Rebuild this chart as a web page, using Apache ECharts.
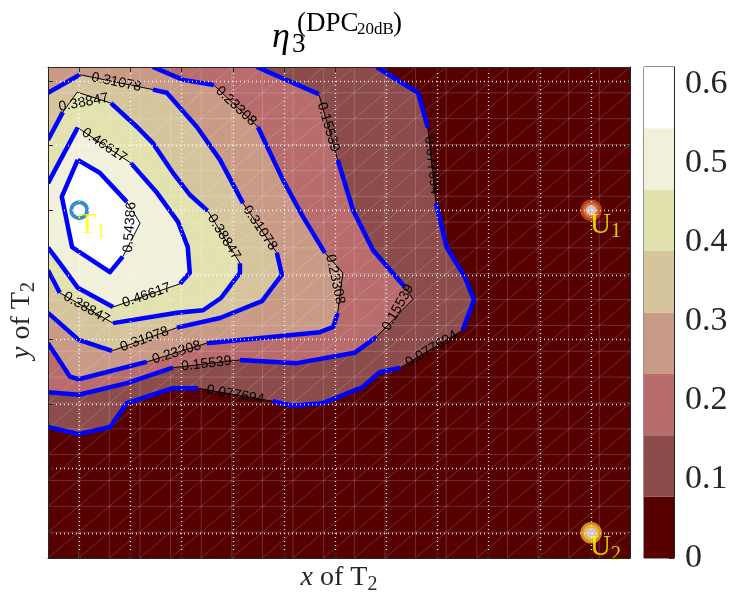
<!DOCTYPE html>
<html>
<head>
<meta charset="UTF-8">
<title>eta3 DPC 20dB</title>
<script src="https://cdn.jsdelivr.net/npm/echarts@6/dist/echarts.min.js"></script>
<style>
html,body{margin:0;padding:0;background:#fff;}
#main{width:733px;height:592px;}
</style>
</head>
<body>
<div id="main"></div>
<script>
// contour levels and colour bands (lowest band first)
var levels = [0.077694, 0.15539, 0.23308, 0.31078, 0.38847, 0.46617, 0.54386];
var zMax = 0.62155;
var bandColors = ['#560000', '#8c4c4c', '#b86c6c', '#c99b86', '#d6c59c', '#e2e2af', '#f0f0db', '#ffffff'];

var xTicks = [1, 2, 3, 4, 5, 6, 7, 8, 9, 10, 11];
var yTicks = [1, 2, 3, 4, 5, 6, 7, 8];
var cbTicks = [0, 0.1, 0.2, 0.3, 0.4, 0.5, 0.6];
var xRange = [0.39, 11.76];
var yRange = [0.61, 8.22];
var meshCells = 19;   // the surface was sampled on a 20 x 20 grid spanning the axes

// contour lines, one list of [x, y] per level
var c1 = [[6.81,8.22],[7.62,7.82],[7.81,7.28],[7.97,6.11],[8.18,5.42],[8.53,4.97],[8.71,4.61],[8.49,4.14],[7.28,3.56],[6.87,3.49],
          [6.54,3.26],[5.76,3.01],[5.17,2.97],[4.78,3.04],[3.32,3.24],[2.81,3.24],[1.93,3.01],[1.60,2.64],[0.99,2.53],[0.39,2.64]];
var c2 = [[4.47,8.22],[5.68,7.80],[6.05,6.78],[6.35,6.00],[6.74,5.38],[7.36,4.81],[7.52,4.62],[6.81,4.04],[6.38,3.79],[5.25,3.63],
          [4.14,3.68],[2.83,3.56],[1.93,3.32],[0.99,3.14],[0.39,3.18]];
var c3 = [[2.44,8.22],[3.03,8.02],[3.63,7.94],[4.49,7.29],[4.98,6.47],[5.37,5.90],[5.80,5.34],[6.15,5.03],[6.05,4.41],[5.96,4.19],
          [5.70,4.11],[3.49,3.94],[2.32,3.65],[0.99,3.38],[0.82,3.42],[0.39,3.94]];
var c4 = [[0.39,7.82],[1.01,8.10],[2.44,7.87],[2.71,7.82],[3.30,7.29],[3.75,6.78],[4.20,6.11],[4.86,5.34],[4.96,5.00],[4.57,4.59],
          [3.75,4.33],[2.91,4.18],[1.64,3.82],[0.99,3.99],[0.39,4.41]];
var c5 = [[0.39,7.09],[0.68,7.52],[0.96,7.83],[1.62,7.66],[2.13,7.29],[2.44,7.04],[2.83,6.58],[3.16,6.24],[3.51,5.99],[4.14,5.18],
          [4.14,5.03],[3.77,4.64],[3.42,4.45],[2.91,4.41],[1.66,4.25],[0.62,4.72],[0.39,5.07]];
var c6 = [[0.39,6.42],[0.97,7.28],[2.01,6.73],[2.52,6.27],[2.93,5.82],[3.12,5.43],[3.16,5.03],[2.97,4.86],[1.66,4.50],[0.97,4.80],
          [0.62,5.18],[0.39,5.42]];
var c7 = [[0.97,6.78],[0.66,6.21],[0.86,5.43],[1.60,5.04],[1.85,5.28],[2.19,5.80],[1.93,6.13],[1.40,6.58],[0.97,6.78]];
var contours = [c1, c2, c3, c4, c5, c6, c7];
// [from, to] point indices where the line carries its value label
var labelSpans = [
  [[2,3],[7,8],[13,14]],
  [[1,2],[5,7],[10,11]],
  [[2,3],[6,8],[11,12]],
  [[1,2],[6,7],[11,12]],
  [[1,3],[8,9],[14,15]],
  [[1,2],[7,8]],
  [[4,6]]
];

var nodeName = ['T', 'U', 'U'];
var nodeSub = ['1', '1', '2'];
var nodeX = [1, 11, 11];
var nodeY = [6, 6, 1];
var nodeColor = ['#0072bd', '#d95319', '#edb120'];

var serif = '"Liberation Serif", "DejaVu Serif", serif';
var axisColor = '#262626';

function renderFill(params, api) {
  var k = params.dataIndex;
  var pts = contours[k].slice();
  // lines that leave through the top edge close round the top-left corner
  if (pts[0][1] >= yRange[1]) pts.push([xRange[0], yRange[1]]);
  return {
    type: 'polygon',
    shape: {points: pts.map(function (p) { return api.coord(p); })},
    style: {fill: bandColors[k + 1]},
    silent: true
  };
}

// faint triangulation edges of the sampled surface
function renderMesh(params, api) {
  var kids = [];
  var dx = (xRange[1] - xRange[0]) / meshCells, dy = (yRange[1] - yRange[0]) / meshCells;
  var st = {stroke: 'rgba(255,255,255,0.22)', lineWidth: 0.8, fill: null};
  for (var i = 1; i < meshCells; i++) {
    var x = xRange[0] + i * dx, y = yRange[0] + i * dy;
    kids.push({type: 'line', shape: pt2(api.coord([x, yRange[0]]), api.coord([x, yRange[1]])), style: st});
    kids.push({type: 'line', shape: pt2(api.coord([xRange[0], y]), api.coord([xRange[1], y])), style: st});
  }
  for (var a = 0; a < meshCells; a++) {
    for (var b = 0; b < meshCells; b++) {
      var p = api.coord([xRange[0] + a * dx, yRange[0] + b * dy]);
      var q = api.coord([xRange[0] + (a + 1) * dx, yRange[0] + (b + 1) * dy]);
      kids.push({type: 'line', shape: pt2(p, q), style: st});
    }
  }
  return {type: 'group', children: kids, silent: true};
}

function pt2(p, q) { return {x1: p[0], y1: p[1], x2: q[0], y2: q[1]}; }

function poly(points, color, width) {
  return {type: 'polyline', shape: {points: points},
    style: {stroke: color, lineWidth: width, fill: null, lineJoin: 'round'}, silent: true};
}

function renderLine(params, api) {
  var k = params.dataIndex;
  var px = contours[k].map(function (p) { return api.coord(p); });
  var kids = [];
  var from = 0;
  labelSpans[k].forEach(function (s) {
    kids.push(poly(px.slice(from, s[0] + 1), '#0000ff', 4.5));
    var seg = px.slice(s[0], s[1] + 1);
    kids.push(poly(seg, '#000000', 1));
    var cx = 0, cy = 0;
    seg.forEach(function (p) { cx += p[0]; cy += p[1]; });
    cx /= seg.length; cy /= seg.length;
    var a = px[s[0]], b = px[s[1]];
    var ang = Math.atan2(b[1] - a[1], b[0] - a[0]);
    if (ang > Math.PI / 2) ang -= Math.PI;
    if (ang < -Math.PI / 2) ang += Math.PI;
    kids.push({
      type: 'text', x: cx, y: cy, rotation: -ang, silent: true,
      style: {text: String(levels[k]), fill: '#000', font: '14px "Liberation Sans", Arial, sans-serif',
        align: 'center', verticalAlign: 'middle', textAlign: 'center', textVerticalAlign: 'middle'}
    });
    from = s[1];
  });
  kids.push(poly(px.slice(from), '#0000ff', 4.5));
  return {type: 'group', children: kids};
}

var bounds = [0].concat(levels).concat([zMax]);
var cbSeries = bandColors.map(function (col, i) {
  return {
    type: 'bar', xAxisIndex: 2, yAxisIndex: 2, stack: 'cb', barWidth: '100%',
    data: [bounds[i + 1] - bounds[i]], itemStyle: {color: col}, silent: true
  };
});

var gridMarks = xTicks.map(function (v) { return {xAxis: v}; })
  .concat(yTicks.map(function (v) { return {yAxis: v}; }));

var myChart = echarts.init(document.getElementById('main'));

function frameAxis(dim, pos, extra) {
  var ax = {
    type: 'value', gridIndex: 0, position: pos,
    min: dim === 'x' ? xRange[0] : yRange[0],
    max: dim === 'x' ? xRange[1] : yRange[1],
    axisLine: {show: true, onZero: false, lineStyle: {color: axisColor, width: 1}},
    axisTick: {show: true, inside: true, length: 5, customValues: dim === 'x' ? xTicks : yTicks,
      lineStyle: {color: axisColor}},
    axisLabel: {show: false},
    splitLine: {show: false},
    z: 10
  };
  for (var key in extra) ax[key] = extra[key];
  return ax;
}

var nameRich = {
  i: {fontFamily: serif, fontStyle: 'italic', fontSize: 28, color: '#262626'},
  r: {fontFamily: serif, fontSize: 28, color: '#262626'},
  s: {fontFamily: serif, fontSize: 20, color: '#262626', padding: [14, 0, 0, 0]}
};

function titlePart(x, y, text, font) {
  return {type: 'text', x: x, y: y, silent: true,
    style: {text: text, font: font, fill: '#000', verticalAlign: 'middle', textVerticalAlign: 'middle'}};
}

myChart.setOption({
  animation: false,
  backgroundColor: '#ffffff',
  grid: [
    {left: 48, top: 67, width: 582, height: 491, outerBoundsMode: 'none', containLabel: false,
      show: true, backgroundColor: bandColors[0], borderWidth: 0},
    {left: 644, top: 67, width: 30, height: 491, outerBoundsMode: 'none', containLabel: false,
      show: true, borderColor: axisColor, borderWidth: 1}
  ],
  graphic: [
    titlePart(272, 38, 'η', 'italic 36px ' + serif),
    titlePart(292, 45, '3', '27px ' + serif),
    titlePart(297, 24, '(DPC', '27px ' + serif),
    titlePart(357, 30, '20dB', '17px ' + serif),
    titlePart(393, 24, ')', '27px ' + serif)
  ],
  xAxis: [
    frameAxis('x', 'bottom', {name: '{i|x}{r| of T}{s|2}', nameLocation: 'middle', nameGap: 3,
      nameTextStyle: {rich: nameRich, verticalAlign: 'top'}}),
    frameAxis('x', 'top', {}),
    {type: 'category', gridIndex: 1, data: ['cb'], show: false}
  ],
  yAxis: [
    frameAxis('y', 'left', {name: '{i|y}{r| of T}{s|2}', nameLocation: 'middle', nameGap: 9,
      nameTextStyle: {rich: nameRich, padding: [0, 16, 0, 0]}}),
    frameAxis('y', 'right', {}),
    {
      type: 'value', gridIndex: 1, position: 'right', min: 0, max: zMax,
      axisLine: {show: true, lineStyle: {color: axisColor}},
      axisTick: {show: true, inside: true, length: 5, customValues: cbTicks, lineStyle: {color: axisColor}},
      axisLabel: {show: true, customValues: cbTicks, margin: 11, color: axisColor, fontFamily: serif, fontSize: 34,
        formatter: function (v) { return v === 0 ? '0' : v.toFixed(1); }},
      splitLine: {show: false}
    }
  ],
  series: [
    {type: 'custom', coordinateSystem: 'cartesian2d', xAxisIndex: 0, yAxisIndex: 0, renderItem: renderFill,
      data: contours.map(function (c, i) { return [i]; }), z: 1, clip: true, silent: true},
    {type: 'custom', coordinateSystem: 'cartesian2d', xAxisIndex: 0, yAxisIndex: 0, renderItem: renderMesh,
      data: [[0]], z: 1.5, clip: true, silent: true},
    {type: 'line', xAxisIndex: 0, yAxisIndex: 0, data: [], z: 2, silent: true,
      markLine: {silent: true, symbol: ['none', 'none'], label: {show: false},
        lineStyle: {color: '#ffffff', type: [1, 3], width: 1.3, opacity: 0.9}, data: gridMarks}},
    {type: 'custom', coordinateSystem: 'cartesian2d', xAxisIndex: 0, yAxisIndex: 0, renderItem: renderLine,
      data: contours.map(function (c, i) { return [i]; }), z: 3, clip: true, silent: true},
    {
      type: 'scatter', xAxisIndex: 0, yAxisIndex: 0, z: 4, silent: true,
      data: nodeX.map(function (x, i) {
        return {
          value: [x, nodeY[i]],
          symbolSize: 16,
          itemStyle: {color: i === 0 ? 'rgba(0,0,0,0)' : '#f4f4f4', borderColor: nodeColor[i], borderWidth: i === 0 ? 4 : 5.5},
          label: {formatter: '{a|' + nodeName[i] + '}{b|' + nodeSub[i] + '}'}
        };
      }),
      label: {
        show: true, position: 'inside', align: 'left', verticalAlign: 'middle', offset: [-1, 15],
        rich: {
          a: {fontFamily: serif, fontSize: 29, color: '#ffff00'},
          b: {fontFamily: serif, fontSize: 20, color: '#ffff00', padding: [14, 0, 0, 0]}
        }
      }
    }
  ].concat(cbSeries)
});
</script>
</body>
</html>
